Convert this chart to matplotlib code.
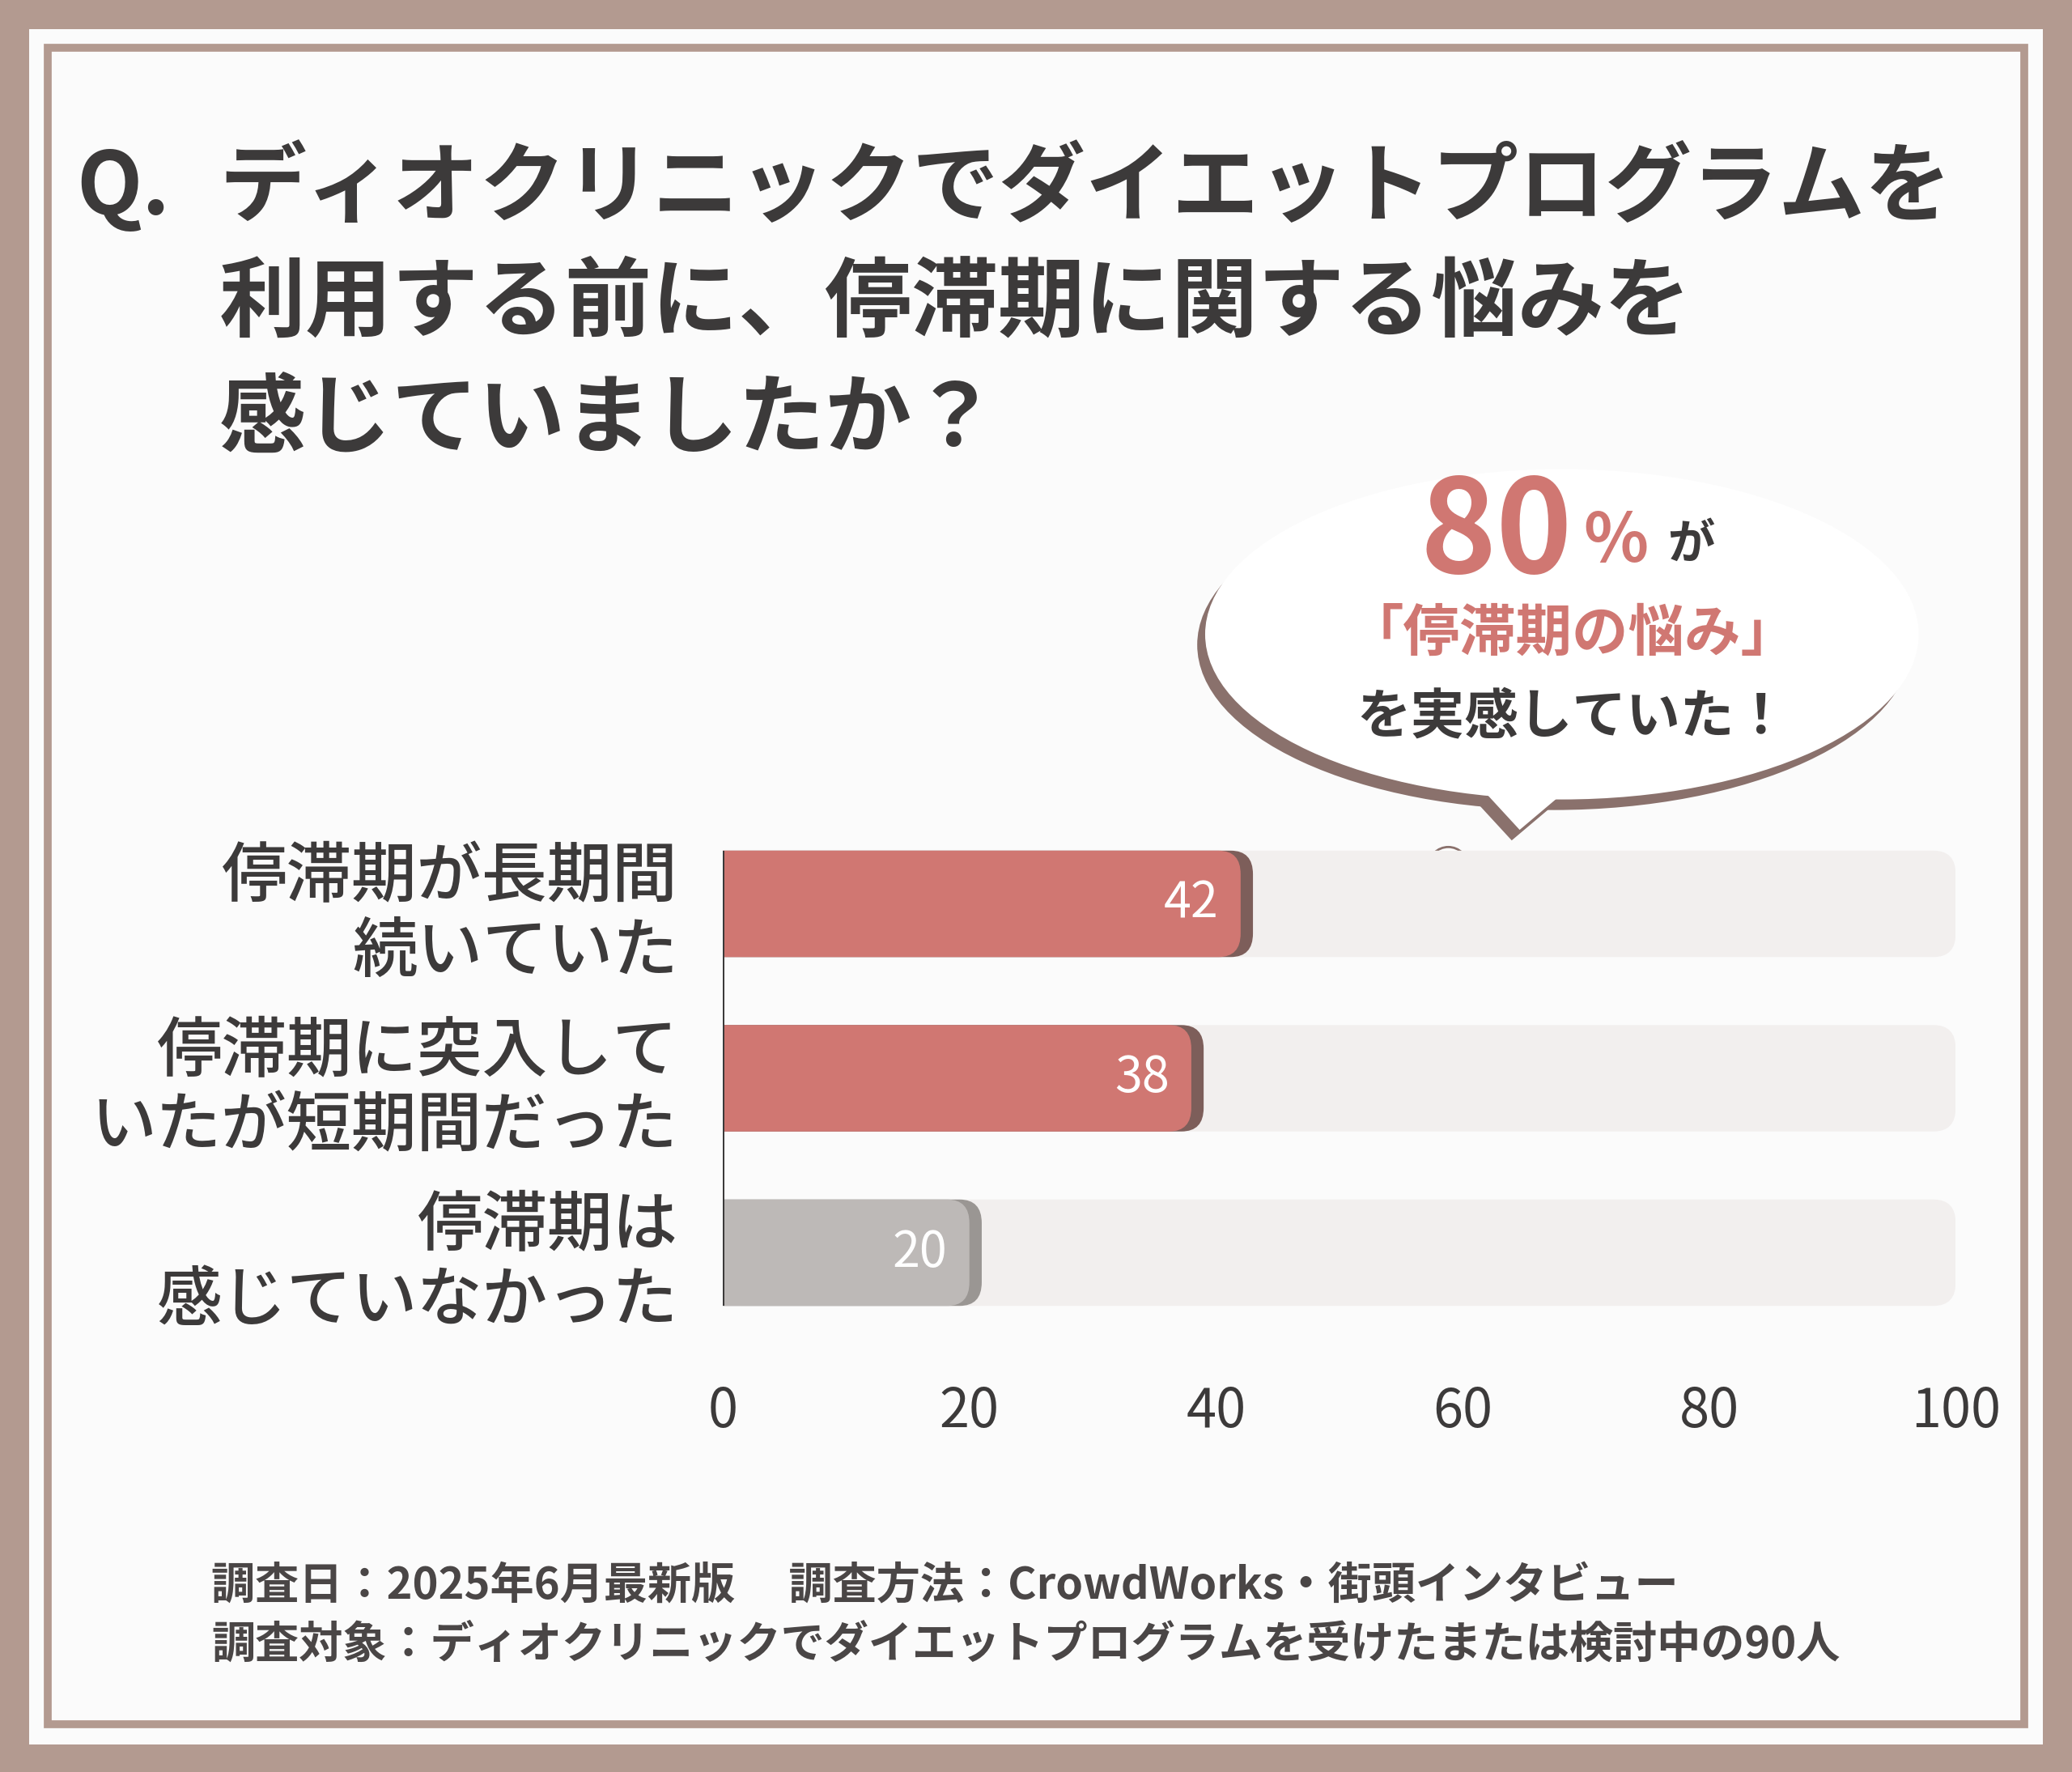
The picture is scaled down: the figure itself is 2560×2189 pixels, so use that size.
import matplotlib
matplotlib.use('Agg')
import matplotlib.pyplot as plt
from matplotlib.patches import FancyBboxPatch, Rectangle, Ellipse, Polygon

plt.rcParams['font.family'] = 'Noto Sans CJK JP'

categories = ['停滞期が長期間\n続いていた', '停滞期に突入して\nいたが短期間だった', '停滞期は\n感じていなかった']
values = [42, 38, 20]
bar_colors = ['#d07772', '#d07772', '#bdb9b7']
shadow_colors = ['#7d5e5a', '#7d5e5a', '#9a9693']
ticks = [0, 20, 40, 60, 80, 100]

W, H = 1568, 1341
def fx(x): return x / W
def fy(y): return 1 - y / H

fig = plt.figure(figsize=(25.6, 21.89), dpi=100)
fig.patch.set_facecolor('#b39a90')
tf = fig.transFigure
fig.patches.append(Rectangle((fx(22), fy(1320)), fx(1546) - fx(22), fy(22) - fy(1320),
                             transform=tf, facecolor='#fbfbfb', edgecolor='none', zorder=-5))
fig.patches.append(Rectangle((fx(36), fy(1305)), fx(1532) - fx(36), fy(36) - fy(1305),
                             transform=tf, facecolor='none', edgecolor='#b39a90', linewidth=7, zorder=-4))

dark = '#3c3a3a'
fig.text(fx(58), fy(143), 'Q.', fontsize=76, fontweight='bold', color=dark, va='center')
fig.text(fx(166), fy(143), 'ディオクリニックでダイエットプログラムを', fontsize=77, fontweight='bold', color=dark, va='center')
fig.text(fx(166), fy(230), '利用する前に、停滞期に関する悩みを', fontsize=77, fontweight='bold', color=dark, va='center')
fig.text(fx(166), fy(318), '感じていましたか？', fontsize=77, fontweight='bold', color=dark, va='center')

# speech bubble
shadow = '#8a716c'
for dx, dy, col in [(-6, 8, shadow), (0, 0, 'white')]:
    fig.patches.append(Ellipse((fx(1182 + dx), fy(480 + dy)), fx(540), 250 / H,
                               transform=tf, facecolor=col, edgecolor='none', zorder=-3))
    fig.patches.append(Polygon([(fx(1115 + dx), fy(590 + dy)), (fx(1195 + dx), fy(590 + dy)),
                                (fx(1150 + dx), fy(628 + dy))], transform=tf, facecolor=col,
                               edgecolor='none', zorder=-3))
fig.patches.append(Ellipse((fx(1096), fy(656)), fx(30), 30 / H, transform=tf, facecolor='white', edgecolor=shadow, lw=2))
fig.patches.append(Ellipse((fx(1066), fy(679)), fx(16), 16 / H, transform=tf, facecolor='white', edgecolor=shadow, lw=2))

pink = '#d07772'
fig.text(fx(1190), fy(405), '80', fontsize=115, fontweight='bold', color=pink, ha='right', va='center')
fig.text(fx(1198), fy(410), '%', fontsize=60, fontweight='bold', color=pink, ha='left', va='center')
fig.text(fx(1262), fy(412), 'が', fontsize=42, fontweight='bold', color=dark, ha='left', va='center')
fig.text(fx(1190), fy(480), '「停滞期の悩み」', fontsize=50, fontweight='bold', color=pink, ha='center', va='center')
fig.text(fx(1190), fy(543), 'を実感していた！', fontsize=48, fontweight='bold', color=dark, ha='center', va='center')

# chart
ax = fig.add_axes([fx(547), 1 - 1014 / H, fx(1480) - fx(547), (1014 - 618) / H])
ax.set_zorder(2)
ax.set_xlim(0, 100)
ax.set_ylim(2.5, -0.5)
ax.patch.set_alpha(0)
bh = 0.61
asp = 0.075
for i, (v, c, s) in enumerate(zip(values, bar_colors, shadow_colors)):
    ax.add_patch(FancyBboxPatch((0, i - bh / 2), 100, bh, boxstyle='round,pad=0,rounding_size=1.8',
                                mutation_aspect=asp, facecolor='#f2efee', edgecolor='none'))
    ax.add_patch(FancyBboxPatch((-2, i - bh / 2), v + 3, bh, boxstyle='round,pad=0,rounding_size=1.8',
                                mutation_aspect=asp, facecolor=s, edgecolor='none'))
    ax.add_patch(FancyBboxPatch((-2, i - bh / 2), v + 2, bh, boxstyle='round,pad=0,rounding_size=1.8',
                                mutation_aspect=asp, facecolor=c, edgecolor='none'))
    ax.text(v - 4, i, str(v), fontsize=44, color='white', ha='center', va='center')
ax.add_patch(Rectangle((-0.5, -bh / 2), 0.6, 2 + bh, facecolor=dark, edgecolor='none'))
for sp in ax.spines.values():
    sp.set_visible(False)
ax.set_xticks(ticks)
ax.set_xticklabels([str(t) for t in ticks], fontsize=48, color=dark)
ax.tick_params(axis='x', length=0, pad=40)
ax.set_yticks(range(len(categories)))
ax.set_yticklabels(categories, fontsize=58, color=dark, fontweight='medium', linespacing=1.15)
ax.tick_params(axis='y', length=0, pad=40)

fig.text(fx(160), fy(1200), '調査日：2025年6月最新版　 調査方法：CrowdWorks・街頭インタビュー',
         fontsize=39, fontweight='bold', color='#4a4646', va='center')
fig.text(fx(160), fy(1245), '調査対象：ディオクリニックでダイエットプログラムを受けたまたは検討中の90人',
         fontsize=39, fontweight='bold', color='#4a4646', va='center')

fig.savefig('out.png', dpi=100)
